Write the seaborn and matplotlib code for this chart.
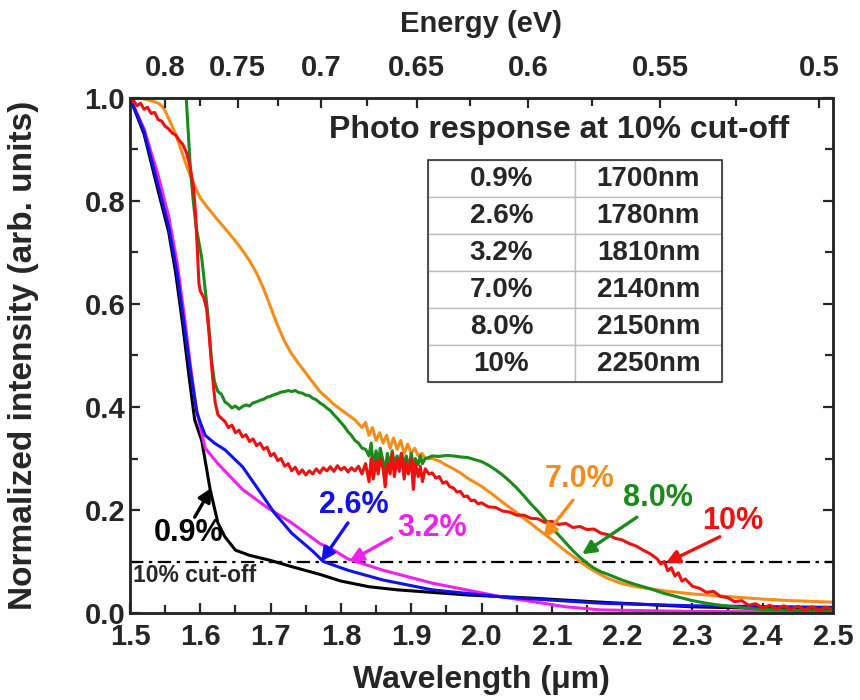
import matplotlib
matplotlib.use("Agg")
import pandas as pd
import matplotlib.pyplot as plt
import seaborn as sns
from matplotlib.patches import Rectangle

# ---- Photo response spectra (wavelength in um, normalized intensity) ----
wl_09 = [1.500, 1.520, 1.540, 1.555, 1.565, 1.575, 1.583, 1.592, 1.602, 1.614,
         1.625, 1.635, 1.650, 1.670, 1.700, 1.730, 1.770, 1.800, 1.840, 1.880,
         1.980, 2.070, 2.170, 2.300, 2.500]
int_09 = [1.000, 0.930, 0.820, 0.740, 0.660, 0.560, 0.470, 0.375, 0.335, 0.240,
          0.175, 0.148, 0.122, 0.112, 0.102, 0.090, 0.075, 0.062, 0.051, 0.045,
          0.035, 0.029, 0.021, 0.012, 0.006]

wl_26 = [1.500, 1.520, 1.540, 1.555, 1.567, 1.577, 1.586, 1.595, 1.600, 1.607,
         1.620, 1.635, 1.660, 1.680, 1.705, 1.730, 1.760, 1.775, 1.810, 1.860,
         1.930, 2.030, 2.170, 2.300, 2.500]
int_26 = [1.000, 0.935, 0.830, 0.750, 0.660, 0.560, 0.470, 0.390, 0.370, 0.345,
          0.330, 0.317, 0.284, 0.245, 0.195, 0.155, 0.120, 0.100, 0.083, 0.064,
          0.045, 0.031, 0.019, 0.014, 0.011]

wl_32 = [1.500, 1.520, 1.540, 1.555, 1.567, 1.577, 1.586, 1.594, 1.600, 1.607,
         1.625, 1.660, 1.695, 1.730, 1.770, 1.790, 1.810, 1.860, 1.930, 2.030,
         2.120, 2.170, 2.300, 2.500]
int_32 = [1.000, 0.940, 0.850, 0.770, 0.680, 0.580, 0.480, 0.400, 0.360, 0.320,
          0.290, 0.240, 0.205, 0.175, 0.135, 0.122, 0.105, 0.083, 0.058, 0.031,
          0.012, 0.006, 0.003, 0.002]

wl_70 = [1.500, 1.510, 1.520, 1.530, 1.540, 1.545, 1.550, 1.555, 1.560, 1.565,
         1.570, 1.575, 1.580, 1.585, 1.590, 1.595, 1.600, 1.610, 1.620, 1.630,
         1.640, 1.650, 1.660, 1.670, 1.680, 1.690, 1.700, 1.710, 1.720, 1.730,
         1.740, 1.750, 1.760, 1.770, 1.780, 1.790, 1.800, 1.810, 1.820, 1.830,
         1.835, 1.840, 1.845, 1.850, 1.855, 1.860, 1.865, 1.870, 1.875, 1.880,
         1.885, 1.890, 1.895, 1.900, 1.905, 1.910, 1.915, 1.920, 1.930, 1.940,
         1.950, 1.960, 1.970, 1.980, 1.990, 2.000, 2.010, 2.020, 2.030, 2.040,
         2.050, 2.060, 2.070, 2.080, 2.090, 2.100, 2.110, 2.120, 2.130, 2.140,
         2.150, 2.160, 2.170, 2.180, 2.190, 2.200, 2.220, 2.240, 2.260, 2.280,
         2.300, 2.330, 2.360, 2.400, 2.440, 2.480, 2.500]
int_70 = [0.995, 1.000, 0.998, 0.995, 0.990, 0.985, 0.975, 0.960, 0.945, 0.930,
          0.910, 0.890, 0.870, 0.852, 0.835, 0.820, 0.806, 0.788, 0.771, 0.755,
          0.739, 0.722, 0.704, 0.684, 0.660, 0.630, 0.594, 0.558, 0.527, 0.503,
          0.484, 0.466, 0.448, 0.430, 0.418, 0.405, 0.395, 0.385, 0.375, 0.360,
          0.370, 0.345, 0.360, 0.335, 0.350, 0.330, 0.345, 0.320, 0.340, 0.318,
          0.335, 0.310, 0.328, 0.310, 0.320, 0.305, 0.310, 0.300, 0.300, 0.295,
          0.287, 0.280, 0.272, 0.262, 0.254, 0.246, 0.236, 0.226, 0.215, 0.205,
          0.195, 0.184, 0.174, 0.163, 0.153, 0.142, 0.131, 0.120, 0.110, 0.100,
          0.090, 0.082, 0.074, 0.067, 0.062, 0.057, 0.051, 0.047, 0.043, 0.040,
          0.037, 0.034, 0.031, 0.027, 0.024, 0.022, 0.021]

wl_80 = [1.580, 1.583, 1.586, 1.590, 1.594, 1.598, 1.602, 1.606, 1.610, 1.613,
         1.616, 1.620, 1.625, 1.630, 1.635, 1.640, 1.645, 1.650, 1.655, 1.660,
         1.665, 1.670, 1.675, 1.680, 1.685, 1.690, 1.695, 1.700, 1.705, 1.710,
         1.715, 1.720, 1.725, 1.730, 1.735, 1.740, 1.745, 1.750, 1.755, 1.760,
         1.765, 1.770, 1.775, 1.780, 1.785, 1.790, 1.795, 1.800, 1.805, 1.810,
         1.815, 1.820, 1.825, 1.830, 1.835, 1.840, 1.843, 1.846, 1.850, 1.853,
         1.856, 1.860, 1.863, 1.866, 1.870, 1.873, 1.876, 1.880, 1.883, 1.886,
         1.890, 1.893, 1.896, 1.900, 1.903, 1.906, 1.910, 1.913, 1.916, 1.920,
         1.925, 1.930, 1.940, 1.950, 1.960, 1.970, 1.980, 1.990, 2.000, 2.010,
         2.020, 2.030, 2.040, 2.050, 2.060, 2.070, 2.080, 2.090, 2.100, 2.110,
         2.120, 2.130, 2.140, 2.150, 2.160, 2.170, 2.180, 2.200, 2.220, 2.240,
         2.260, 2.280, 2.300, 2.320, 2.340, 2.360, 2.380, 2.400, 2.450, 2.500]
int_80 = [1.000, 0.930, 0.860, 0.800, 0.750, 0.720, 0.690, 0.640, 0.590, 0.540,
          0.490, 0.450, 0.430, 0.425, 0.410, 0.405, 0.398, 0.402, 0.396, 0.401,
          0.404, 0.402, 0.408, 0.410, 0.413, 0.415, 0.419, 0.421, 0.424, 0.426,
          0.429, 0.430, 0.432, 0.430, 0.432, 0.428, 0.427, 0.423, 0.422, 0.417,
          0.414, 0.408, 0.404, 0.398, 0.393, 0.385, 0.378, 0.370, 0.362, 0.352,
          0.345, 0.335, 0.330, 0.320, 0.318, 0.305, 0.330, 0.285, 0.315, 0.290,
          0.320, 0.295, 0.275, 0.310, 0.285, 0.315, 0.290, 0.305, 0.285, 0.310,
          0.290, 0.305, 0.280, 0.310, 0.285, 0.300, 0.288, 0.305, 0.290, 0.300,
          0.302, 0.305, 0.304, 0.306, 0.305, 0.303, 0.302, 0.298, 0.294, 0.287,
          0.278, 0.268, 0.256, 0.243, 0.228, 0.212, 0.198, 0.182, 0.166, 0.151,
          0.136, 0.121, 0.108, 0.097, 0.087, 0.080, 0.075, 0.064, 0.055, 0.047,
          0.038, 0.031, 0.024, 0.019, 0.015, 0.012, 0.009, 0.007, 0.005, 0.004]

wl_10 = [1.500, 1.505, 1.510, 1.515, 1.520, 1.525, 1.530, 1.535, 1.540, 1.545,
         1.550, 1.555, 1.560, 1.565, 1.570, 1.575, 1.580, 1.585, 1.590, 1.593,
         1.596, 1.598, 1.600, 1.605, 1.609, 1.612, 1.615, 1.618, 1.621, 1.625,
         1.630, 1.635, 1.640, 1.645, 1.650, 1.655, 1.660, 1.665, 1.670, 1.675,
         1.680, 1.685, 1.690, 1.695, 1.700, 1.705, 1.710, 1.715, 1.720, 1.725,
         1.730, 1.735, 1.740, 1.745, 1.750, 1.755, 1.760, 1.765, 1.770, 1.775,
         1.780, 1.785, 1.790, 1.795, 1.800, 1.805, 1.810, 1.815, 1.820, 1.825,
         1.830, 1.835, 1.840, 1.843, 1.846, 1.850, 1.853, 1.856, 1.860, 1.863,
         1.866, 1.870, 1.873, 1.876, 1.880, 1.883, 1.886, 1.890, 1.893, 1.896,
         1.900, 1.903, 1.906, 1.910, 1.913, 1.916, 1.920, 1.925, 1.930, 1.935,
         1.940, 1.945, 1.950, 1.955, 1.960, 1.965, 1.970, 1.975, 1.980, 1.985,
         1.990, 1.995, 2.000, 2.010, 2.020, 2.030, 2.040, 2.050, 2.060, 2.070,
         2.080, 2.090, 2.100, 2.110, 2.120, 2.130, 2.140, 2.150, 2.160, 2.170,
         2.180, 2.190, 2.200, 2.210, 2.220, 2.230, 2.240, 2.250, 2.255, 2.260,
         2.265, 2.270, 2.275, 2.280, 2.285, 2.290, 2.300, 2.310, 2.320, 2.330,
         2.340, 2.350, 2.360, 2.370, 2.380, 2.390, 2.400, 2.410, 2.420, 2.430,
         2.440, 2.450, 2.460, 2.470, 2.480, 2.490, 2.500]
int_10 = [0.990, 0.995, 0.985, 0.990, 0.978, 0.982, 0.970, 0.972, 0.958, 0.955,
          0.945, 0.940, 0.932, 0.928, 0.918, 0.910, 0.895, 0.870, 0.830, 0.780,
          0.700, 0.640, 0.625, 0.612, 0.590, 0.550, 0.500, 0.450, 0.410, 0.385,
          0.378, 0.372, 0.360, 0.365, 0.350, 0.355, 0.342, 0.346, 0.333, 0.338,
          0.325, 0.330, 0.318, 0.322, 0.305, 0.310, 0.296, 0.300, 0.285, 0.290,
          0.276, 0.283, 0.270, 0.278, 0.268, 0.276, 0.270, 0.280, 0.272, 0.282,
          0.276, 0.284, 0.275, 0.286, 0.278, 0.283, 0.274, 0.282, 0.276, 0.285,
          0.270, 0.290, 0.255, 0.300, 0.260, 0.295, 0.270, 0.300, 0.280, 0.245,
          0.290, 0.270, 0.310, 0.265, 0.300, 0.275, 0.310, 0.260, 0.295, 0.270,
          0.300, 0.240, 0.290, 0.265, 0.285, 0.255, 0.280, 0.270, 0.272, 0.262,
          0.265, 0.252, 0.255, 0.245, 0.243, 0.235, 0.236, 0.226, 0.227, 0.218,
          0.219, 0.212, 0.214, 0.206, 0.205, 0.198, 0.196, 0.190, 0.190, 0.184,
          0.183, 0.176, 0.178, 0.172, 0.174, 0.166, 0.168, 0.162, 0.163, 0.155,
          0.152, 0.145, 0.142, 0.135, 0.130, 0.122, 0.115, 0.105, 0.095, 0.100,
          0.082, 0.088, 0.072, 0.078, 0.062, 0.066, 0.052, 0.048, 0.040, 0.042,
          0.032, 0.030, 0.022, 0.024, 0.015, 0.018, 0.010, 0.015, 0.008, 0.014,
          0.007, 0.013, 0.006, 0.012, 0.006, 0.011, 0.007]

samples = ["0.9%", "3.2%", "2.6%", "7.0%", "8.0%", "10%"]
colors = {"0.9%": "#000000", "2.6%": "#1010f0", "3.2%": "#f020f0",
          "7.0%": "#f78c1a", "8.0%": "#1a8a1a", "10%": "#f01010"}

# ---- Cut-off table ----
table_conc = ["0.9%", "2.6%", "3.2%", "7.0%", "8.0%", "10%"]
table_cutoff = ["1700nm", "1780nm", "1810nm", "2140nm", "2150nm", "2250nm"]

# ---- Top axis (photon energy, eV) ----
energy_major = [0.8, 0.75, 0.7, 0.65, 0.6, 0.55, 0.5]
energy_minor = [0.775, 0.725, 0.675, 0.625, 0.575, 0.525]
cutoff_level = 0.1

series = {"0.9%": (wl_09, int_09), "2.6%": (wl_26, int_26), "3.2%": (wl_32, int_32),
          "7.0%": (wl_70, int_70), "8.0%": (wl_80, int_80), "10%": (wl_10, int_10)}
df = pd.concat([pd.DataFrame({"wl": w, "I": v, "sample": k})
                for k, (w, v) in series.items()], ignore_index=True)

sns.set_style("ticks")
plt.rcParams["font.family"] = ["Liberation Sans", "DejaVu Sans"]
plt.rcParams["font.weight"] = "bold"
plt.rcParams["axes.labelweight"] = "bold"
plt.rcParams["axes.linewidth"] = 1.8

fig = plt.figure(figsize=(8.6, 7.0), dpi=100)
ax = fig.add_axes([130 / 860, 1 - 613 / 700, 703 / 860, 515 / 700])

sns.lineplot(data=df, x="wl", y="I", hue="sample", hue_order=samples,
             palette=colors, sort=False, estimator=None, linewidth=2.2,
             legend=False, ax=ax)

ax.axhline(cutoff_level, color="black", lw=1.6, ls=(0, (6, 2.5, 1.5, 2.5)), zorder=1)

ax.set_xlim(1.5, 2.5)
ax.set_ylim(0.0, 1.0)
ax.set_xticks([1.5, 1.6, 1.7, 1.8, 1.9, 2.0, 2.1, 2.2, 2.3, 2.4, 2.5])
ax.set_xticks([1.55, 1.65, 1.75, 1.85, 1.95, 2.05, 2.15, 2.25, 2.35, 2.45], minor=True)
ax.set_yticks([0.0, 0.2, 0.4, 0.6, 0.8, 1.0])
ax.set_yticks([0.1, 0.3, 0.5, 0.7, 0.9], minor=True)
ax.xaxis.set_major_formatter(plt.FormatStrFormatter("%.1f"))
ax.yaxis.set_major_formatter(plt.FormatStrFormatter("%.1f"))
ax.tick_params(which="both", direction="in", width=1.6, labelsize=21,
               top=False, right=True, bottom=True, left=True)
ax.tick_params(which="major", length=7)
ax.tick_params(which="minor", length=6)
ax.tick_params(axis="x", pad=7.5)
for lab in ax.get_xticklabels() + ax.get_yticklabels():
    lab.set_fontweight("bold")

ax.set_xlabel("Wavelength (μm)", fontsize=23, fontweight="bold", labelpad=10)
ax.set_ylabel("Normalized intensity (arb. units)", fontsize=24, fontweight="bold",
              labelpad=33)

# Energy scale on the top edge, E = 1.24 / lambda
ax2 = ax.twiny()
ax2.set_xlim(ax.get_xlim())
ax2.set_xticks([1.24 / e for e in energy_major])
ax2.set_xticklabels([f"{e:g}" for e in energy_major])
ax2.set_xticks([1.24 / e for e in energy_minor], minor=True)
ax2.tick_params(which="both", direction="in", width=1.6, labelsize=21, pad=11.5)
ax2.tick_params(which="major", length=7)
ax2.tick_params(which="minor", length=6)
for lab in ax2.get_xticklabels():
    lab.set_fontweight("bold")
ax2.set_xlabel("Energy (eV)", fontsize=21, fontweight="bold", labelpad=16)
for s in ax2.spines.values():
    s.set_linewidth(1.8)

# Labels with arrows pointing to the 10 % crossings
notes = [
    ("0.9%", "#000000", (1.584, 0.155), (1.592, 0.186), (1.616, 0.243)),
    ("2.6%", colors["2.6%"], (1.819, 0.210), (1.810, 0.175), (1.772, 0.100)),
    ("3.2%", colors["3.2%"], (1.930, 0.165), (1.872, 0.146), (1.812, 0.100)),
    ("7.0%", colors["7.0%"], (2.140, 0.260), (2.130, 0.219), (2.088, 0.146)),
    ("8.0%", colors["8.0%"], (2.251, 0.223), (2.221, 0.186), (2.143, 0.114)),
    ("10%", colors["10%"], (2.358, 0.179), (2.339, 0.148), (2.262, 0.097)),
]
for text, c, tpos, tail, head in notes:
    ax.text(*tpos, text, color=c, fontsize=22, fontweight="bold",
            ha="center", va="center", zorder=6)
    ax.annotate("", xy=head, xytext=tail,
                arrowprops=dict(arrowstyle="-|>", color=c, lw=2.4,
                                mutation_scale=20, shrinkA=0, shrinkB=0),
                zorder=6)

ax.text(1.504, 0.072, "10% cut-off", fontsize=16.5, fontweight="bold",
        ha="left", va="center")

# Cut-off table
ax.text(0.610, 0.938, "Photo response at 10% cut-off", transform=ax.transAxes,
        fontsize=23, fontweight="bold", ha="center", va="center")
bbox = [0.424, 0.4485, 0.418, 0.431]
tbl = ax.table(cellText=[[a, b] for a, b in zip(table_conc, table_cutoff)],
               cellLoc="center", bbox=bbox, zorder=5)
tbl.auto_set_font_size(False)
tbl.set_fontsize(20)
for cell in tbl.get_celld().values():
    cell.set_edgecolor("#bdbdbd")
    cell.set_linewidth(1.0)
    cell.set_facecolor("white")
    cell.get_text().set_fontweight("bold")
ax.add_patch(Rectangle((bbox[0], bbox[1]), bbox[2], bbox[3], transform=ax.transAxes,
                       fill=False, ec="#333333", lw=1.2, zorder=7))

fig.savefig("out.png", dpi=100)
